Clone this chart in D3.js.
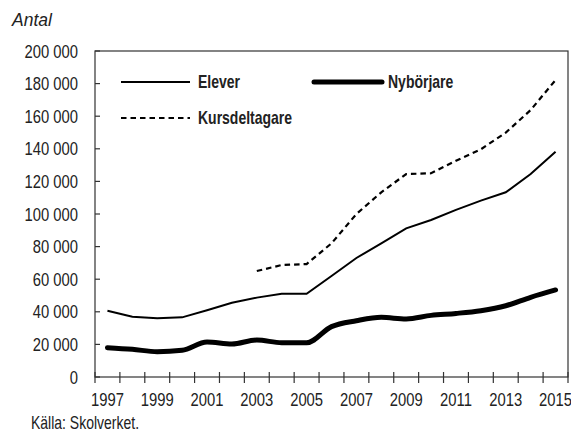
<!DOCTYPE html>
<html>
<head>
<meta charset="utf-8">
<script src="https://cdn.jsdelivr.net/npm/d3@7"></script>
<style>
  html, body { margin: 0; padding: 0; background: #fff; }
  svg { display: block; }
  text { font-family: "Liberation Sans", Arial, sans-serif; }
</style>
</head>
<body>
<svg id="chart" width="571" height="432"></svg>
<script>
// ---- Data ----
const years = [1997, 1998, 1999, 2000, 2001, 2002, 2003, 2004, 2005, 2006, 2007, 2008, 2009, 2010, 2011, 2012, 2013, 2014, 2015];
const elever = [40700, 37000, 36000, 36600, 41000, 45500, 48700, 51000, 51000, 62000, 73000, 82000, 91200, 96300, 102500, 108200, 113300, 124500, 138200];
const nyborjare = [18000, 17000, 15500, 16400, 21500, 20200, 22700, 21000, 21000, 30900, 34500, 36600, 35600, 37800, 39000, 40700, 43700, 48900, 53400];
const kursdeltagare = [null, null, null, null, null, null, 65000, 68700, 69300, 82000, 100000, 113300, 124500, 125000, 132700, 139700, 149900, 163800, 182200];
const yTicks = [0, 20000, 40000, 60000, 80000, 100000, 120000, 140000, 160000, 180000, 200000];
const xLabelYears = [1997, 1999, 2001, 2003, 2005, 2007, 2009, 2011, 2013, 2015];
const seriesNames = ["Elever", "Nybörjare", "Kursdeltagare"];

(function () {
// ---- Layout ----
const mLeft = 95, mRight = 568, mTop = 51, mBottom = 377;
const narrow = 0.8;
const svg = d3.select("#chart");
const axisColor = "#333";
const textColor = "#222";

const x = d3.scaleBand().domain(years).range([mLeft, mRight]).padding(0);
const y = d3.scaleLinear().domain([0, 200000]).range([mBottom, mTop]);
const cx = d => x(d) + x.bandwidth() / 2;

const loc = d3.formatLocale({ decimal: ",", thousands: " ", grouping: [3], currency: ["", " kr"] });
const fmt = loc.format(",d");

// Helper: condensed text (horizontally scaled)
function narrowText(parent, tx, ty, str, opts) {
  const g = parent.append("g").attr("transform", `translate(${tx},${ty}) scale(${narrow},1)`);
  const t = g.append("text")
    .attr("x", 0).attr("y", 0)
    .attr("font-size", opts.size)
    .attr("fill", textColor)
    .attr("text-anchor", opts.anchor || "start")
    .text(str);
  if (opts.dy) t.attr("dy", opts.dy);
  if (opts.weight) t.attr("font-weight", opts.weight);
  return t;
}

// Plot box
svg.append("rect")
  .attr("x", mLeft).attr("y", mTop)
  .attr("width", mRight - mLeft).attr("height", mBottom - mTop)
  .attr("fill", "none").attr("stroke", axisColor).attr("stroke-width", 1.2);

// Y ticks (inside)
svg.append("g").selectAll("line").data(yTicks).join("line")
  .attr("x1", mLeft).attr("x2", mLeft + 5)
  .attr("y1", d => y(d)).attr("y2", d => y(d))
  .attr("stroke", axisColor).attr("stroke-width", 1.2);

const yl = svg.append("g");
yTicks.forEach(v => narrowText(yl, 78, y(v), fmt(v), { size: 18.5, anchor: "end", dy: "0.36em" }));

// X ticks at category boundaries, crossing axis
const boundaries = years.map(d => x(d)).concat([mRight]);
svg.append("g").selectAll("line").data(boundaries).join("line")
  .attr("x1", d => d).attr("x2", d => d)
  .attr("y1", mBottom - 5).attr("y2", mBottom + 6)
  .attr("stroke", axisColor).attr("stroke-width", 1.2);

const xl = svg.append("g");
xLabelYears.forEach(yr => narrowText(xl, cx(yr), 406, String(yr), { size: 18.5, anchor: "middle" }));

// Lines
const lineGen = d3.line()
  .defined(d => d.v !== null)
  .x(d => cx(d.year))
  .y(d => y(d.v));

const toPts = arr => years.map((yr, i) => ({ year: yr, v: arr[i] }));

svg.append("path").datum(toPts(elever))
  .attr("d", lineGen)
  .attr("fill", "none").attr("stroke", "#000").attr("stroke-width", 2);

svg.append("path").datum(toPts(nyborjare))
  .attr("d", lineGen.curve(d3.curveMonotoneX))
  .attr("fill", "none").attr("stroke", "#000").attr("stroke-width", 5)
  .attr("stroke-linecap", "round").attr("stroke-linejoin", "round");

lineGen.curve(d3.curveLinear);
svg.append("path").datum(toPts(kursdeltagare))
  .attr("d", lineGen)
  .attr("fill", "none").attr("stroke", "#000").attr("stroke-width", 2.2)
  .attr("stroke-dasharray", "5.5,4");

// Legend
const legend = [
  { name: seriesNames[0], x1: 121, x2: 190, y: 82, w: 2, dash: null, tx: 198 },
  { name: seriesNames[1], x1: 314, x2: 382, y: 82, w: 5, dash: null, tx: 388 },
  { name: seriesNames[2], x1: 121, x2: 190, y: 118, w: 2.2, dash: "5.5,4", tx: 198 }
];
const lg = svg.append("g");
legend.forEach(l => {
  lg.append("line")
    .attr("x1", l.x1).attr("x2", l.x2).attr("y1", l.y).attr("y2", l.y)
    .attr("stroke", "#000").attr("stroke-width", l.w)
    .attr("stroke-linecap", l.w > 3 ? "round" : "butt")
    .attr("stroke-dasharray", l.dash);
  narrowText(lg, l.tx, l.y + 6, l.name, { size: 17.5, weight: "bold" });
});

// Titles
svg.append("text")
  .attr("x", 12).attr("y", 26)
  .attr("font-style", "italic").attr("font-size", 17.5)
  .attr("fill", textColor)
  .text("Antal");

narrowText(svg, 31, 429, "Källa: Skolverket.", { size: 17.5 });
})();
</script>
</body>
</html>
